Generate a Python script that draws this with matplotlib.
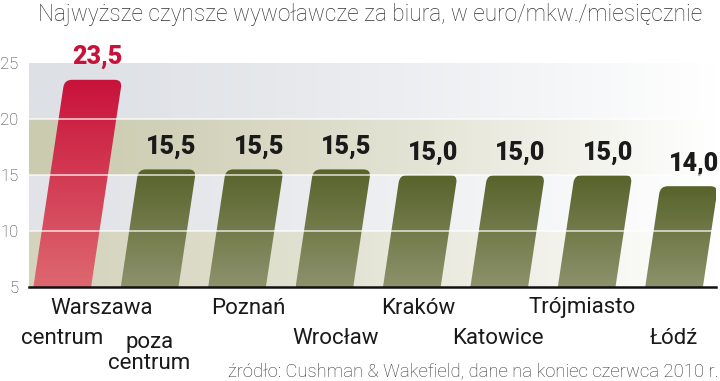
import numpy as np
import matplotlib
matplotlib.use("Agg")
import matplotlib.pyplot as plt
from matplotlib.patches import FancyBboxPatch
from matplotlib.transforms import Affine2D
from matplotlib.colors import to_rgb

plt.rcParams["font.family"] = ["Roboto", "DejaVu Sans"]

title = "Najwyższe czynsze wywoławcze za biura, w euro/mkw./miesięcznie"
source = "źródło: Cushman & Wakefield, dane na koniec czerwca 2010 r."
cities = ["Warszawa centrum", "Warszawa poza centrum", "Poznań", "Wrocław",
          "Kraków", "Katowice", "Trójmiasto", "Łódź"]
rents = [23.5, 15.5, 15.5, 15.5, 15.0, 15.0, 15.0, 14.0]
value_labels = ["23,5", "15,5", "15,5", "15,5", "15,0", "15,0", "15,0", "14,0"]
yticks = [5, 10, 15, 20, 25]

# category labels as printed under the axis: (text, x offset, row)
cat_labels = [("Warszawa", 0.45, 0), ("centrum", 0.0, 1), ("poza\ncentrum", 1.0, 1.45),
              ("Poznań", 2.13, 0), ("Wrocław", 3.13, 1), ("Kraków", 4.07, 0),
              ("Katowice", 4.99, 1), ("Trójmiasto", 5.95, 0), ("Łódź", 7.0, 1)]

W, H = 720, 381
fig = plt.figure(figsize=(W / 100, H / 100), dpi=100)
ax_l, ax_r, ax_b, ax_t = 29, 716, 287, 63
ax = fig.add_axes([ax_l / W, 1 - ax_b / H, (ax_r - ax_l) / W, (ax_b - ax_t) / H])
xlim = (-0.38, 7.48)
ylim = (5, 25)
ax.set_xlim(*xlim)
ax.set_ylim(*ylim)
px_x = (ax_r - ax_l) / (xlim[1] - xlim[0])
px_y = (ax_b - ax_t) / (ylim[1] - ylim[0])

# background bands fading to white on the right
bands = [(5, 10, "#d4d4bd"), (10, 15, "#e1e3e8"), (15, 20, "#cbcbb0"), (20, 25, "#dde0e5")]
t = np.linspace(0, 1, 300)
for lo, hi, col in bands:
    c = np.array(to_rgb(col))
    mix = (t ** 1.3)[:, None]
    grad = c * (1 - mix) + np.ones(3) * mix
    ax.imshow(grad[None, :, :], extent=(xlim[0], xlim[1], lo, hi), aspect="auto",
              zorder=0, interpolation="bilinear")

# slanted bars with rounded tops
slant = 0.15 * px_y / px_x
width = 0.66
for i, v in enumerate(rents):
    top_c, bot_c = ("#c8123a", "#de6870") if i == 0 else ("#58632b", "#8d926b")
    shear = Affine2D(np.array([[1, slant, -5 * slant], [0, 1, 0], [0, 0, 1]]))
    patch = FancyBboxPatch((i - width / 2, 2), width, v - 2,
                           boxstyle="round,pad=0,rounding_size=0.085",
                           mutation_aspect=px_x / px_y, transform=shear + ax.transData,
                           facecolor="none", edgecolor="none")
    ax.add_patch(patch)
    g = np.linspace(0, 1, 200)[:, None]
    col = np.array(to_rgb(top_c)) * (1 - g) + np.array(to_rgb(bot_c)) * g
    x0 = i - width / 2
    im = ax.imshow(col[:, None, :], extent=(x0, x0 + width + slant * (v - 5), 5, v),
                   aspect="auto", zorder=2, interpolation="bilinear")
    im.set_clip_path(patch)
    xc = i + slant * (v - 5) + 0.05
    ax.text(xc, v + 1.4, value_labels[i], ha="center", va="baseline",
            fontsize=18, fontweight="heavy",
            color="#c8123a" if i == 0 else "#1a1a1a", clip_on=False)

for y in [10, 15, 20]:
    ax.axhline(y, color="white", lw=1.2, alpha=0.75, zorder=3)
ax.axhline(5, color="#111111", lw=1.8, zorder=4, clip_on=False)

ax.set_xticks([])
ax.set_yticks(yticks)
ax.set_yticklabels([str(y) for y in yticks], fontsize=12, fontweight="light", color="#333333")
ax.tick_params(axis="y", length=0, pad=7.5)
for s in ax.spines.values():
    s.set_visible(False)

for txt, xo, row in cat_labels:
    yy = 5 - (21 + 31 * row) / px_y
    ax.text(xo, yy, txt, ha="center", va="center", fontsize=16, color="#1a1a1a",
            clip_on=False, linespacing=1.05)

fig.text(38 / W, 1 - 21 / H, title, ha="left", va="baseline", fontsize=16.3,
         fontweight="light", color="#333333")
fig.text(719 / W, 1 - 376 / H, source, ha="right", va="baseline", fontsize=13.3,
         fontweight="light", color="#333333")

fig.savefig("out.png", dpi=100)
